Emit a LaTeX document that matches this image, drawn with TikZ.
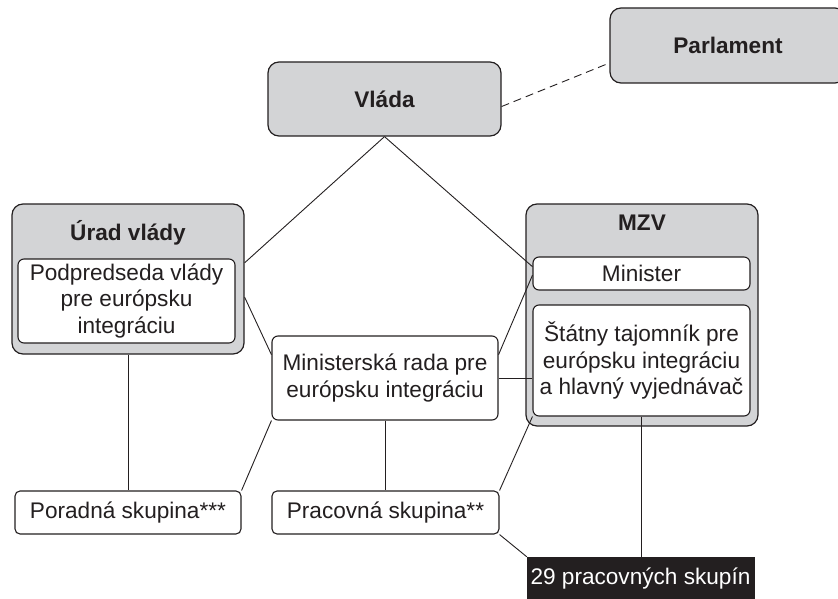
\documentclass[tikz,border=0pt]{standalone}
\usepackage{fontspec}
\setmainfont{Liberation Sans}
\usetikzlibrary{calc}
\definecolor{ink}{HTML}{231F20}
\definecolor{boxgray}{HTML}{D3D4D6}
\newcommand\diagfont{\fontsize{22.6}{26.7}\selectfont}
\begin{document}
\begin{tikzpicture}[x=1pt,y=-1pt,
  graybox/.style={draw=ink, fill=boxgray, line width=1.2pt, rounded corners=11pt, inner sep=0pt, font=\diagfont\bfseries, text=ink},
  whitebox/.style={draw=ink, fill=white, line width=1.1pt, rounded corners=6pt, inner sep=0pt, align=center, font=\diagfont, text=ink},
  titletext/.style={inner sep=0pt, font=\diagfont\bfseries, text=ink},
  blackbox/.style={draw=ink, fill=ink, inner sep=0pt, font=\diagfont, text=white},
  conn/.style={draw=ink, line width=0.9pt},
  dashconn/.style={draw=ink, line width=0.9pt, dash pattern=on 8pt off 5pt}
]
\useasboundingbox (0,0) rectangle (838,599);
\clip (0,0) rectangle (838,599);

% top boxes
\node[graybox, minimum width=236pt, minimum height=75pt] (parl) at (728,45.5) {Parlament};
\node[graybox, minimum width=233pt, minimum height=74pt] (vlada) at (384.5,99) {Vláda};

% Urad vlady
\node[graybox, minimum width=232pt, minimum height=150pt] (urad) at (128,279) {};
\node[titletext] (uradt) at (128,233) {Úrad vlády};
\node[whitebox, minimum width=217pt, minimum height=84pt] (podp) at (126.5,301)
  {Podpredseda vlády\\pre európsku\\integráciu};

% MZV
\node[graybox, minimum width=232pt, minimum height=222pt] (mzv) at (642,315) {};
\node[titletext] (mzvt) at (642,223) {MZV};
\node[whitebox, minimum width=217pt, minimum height=33pt] (minister) at (641.5,273.5) {Minister};
\node[whitebox, minimum width=217pt, minimum height=111pt] (statny) at (641.5,360.5)
  {Štátny tajomník pre\\európsku integráciu\\a hlavný vyjednávač};

% middle and bottom
\node[whitebox, minimum width=226pt, minimum height=84pt] (rada) at (385,378)
  {Ministerská rada pre\\európsku integráciu};
\node[whitebox, rounded corners=5pt, minimum width=226pt, minimum height=43pt] (poradna) at (128,512.5) {Poradná skupina***};
\node[whitebox, rounded corners=5pt, minimum width=227pt, minimum height=43pt] (pracovna) at (385.5,512.5) {Pracovná skupina**};
\node[blackbox, minimum width=227pt, minimum height=44pt] (skupin) at (640.5,579) {29 pracovných skupín};

% connectors
\draw[dashconn] ($(vlada.north east)!0.6!(vlada.south east)$) -- ($(parl.north west)!0.73!(parl.south west)$);
\draw[conn] (vlada.south) -- ($(urad.north east)!0.393!(urad.south east)$);
\draw[conn] (vlada.south) -- ($(minister.north west)!0.3!(minister.south west)$);
\draw[conn] ($(urad.north east)!0.62!(urad.south east)$) -- ($(rada.north west)!0.226!(rada.south west)$);
\draw[conn] ($(rada.north east)!0.226!(rada.south east)$) -- ($(minister.north west)!0.55!(minister.south west)$);
\draw[conn] (rada.east) -- (rada.east -| statny.west);
\draw[conn] (urad.south) -- (poradna.north);
\draw[conn] (rada.south) -- (rada.south |- pracovna.north);
\draw[conn] (poradna.north east) -- (rada.south west);
\draw[conn] (pracovna.north east) -- (statny.south west);
\draw[conn] (pracovna.south east) -- (skupin.north west);
\draw[conn] (statny.south) -- (statny.south |- skupin.north);
\end{tikzpicture}
\end{document}
